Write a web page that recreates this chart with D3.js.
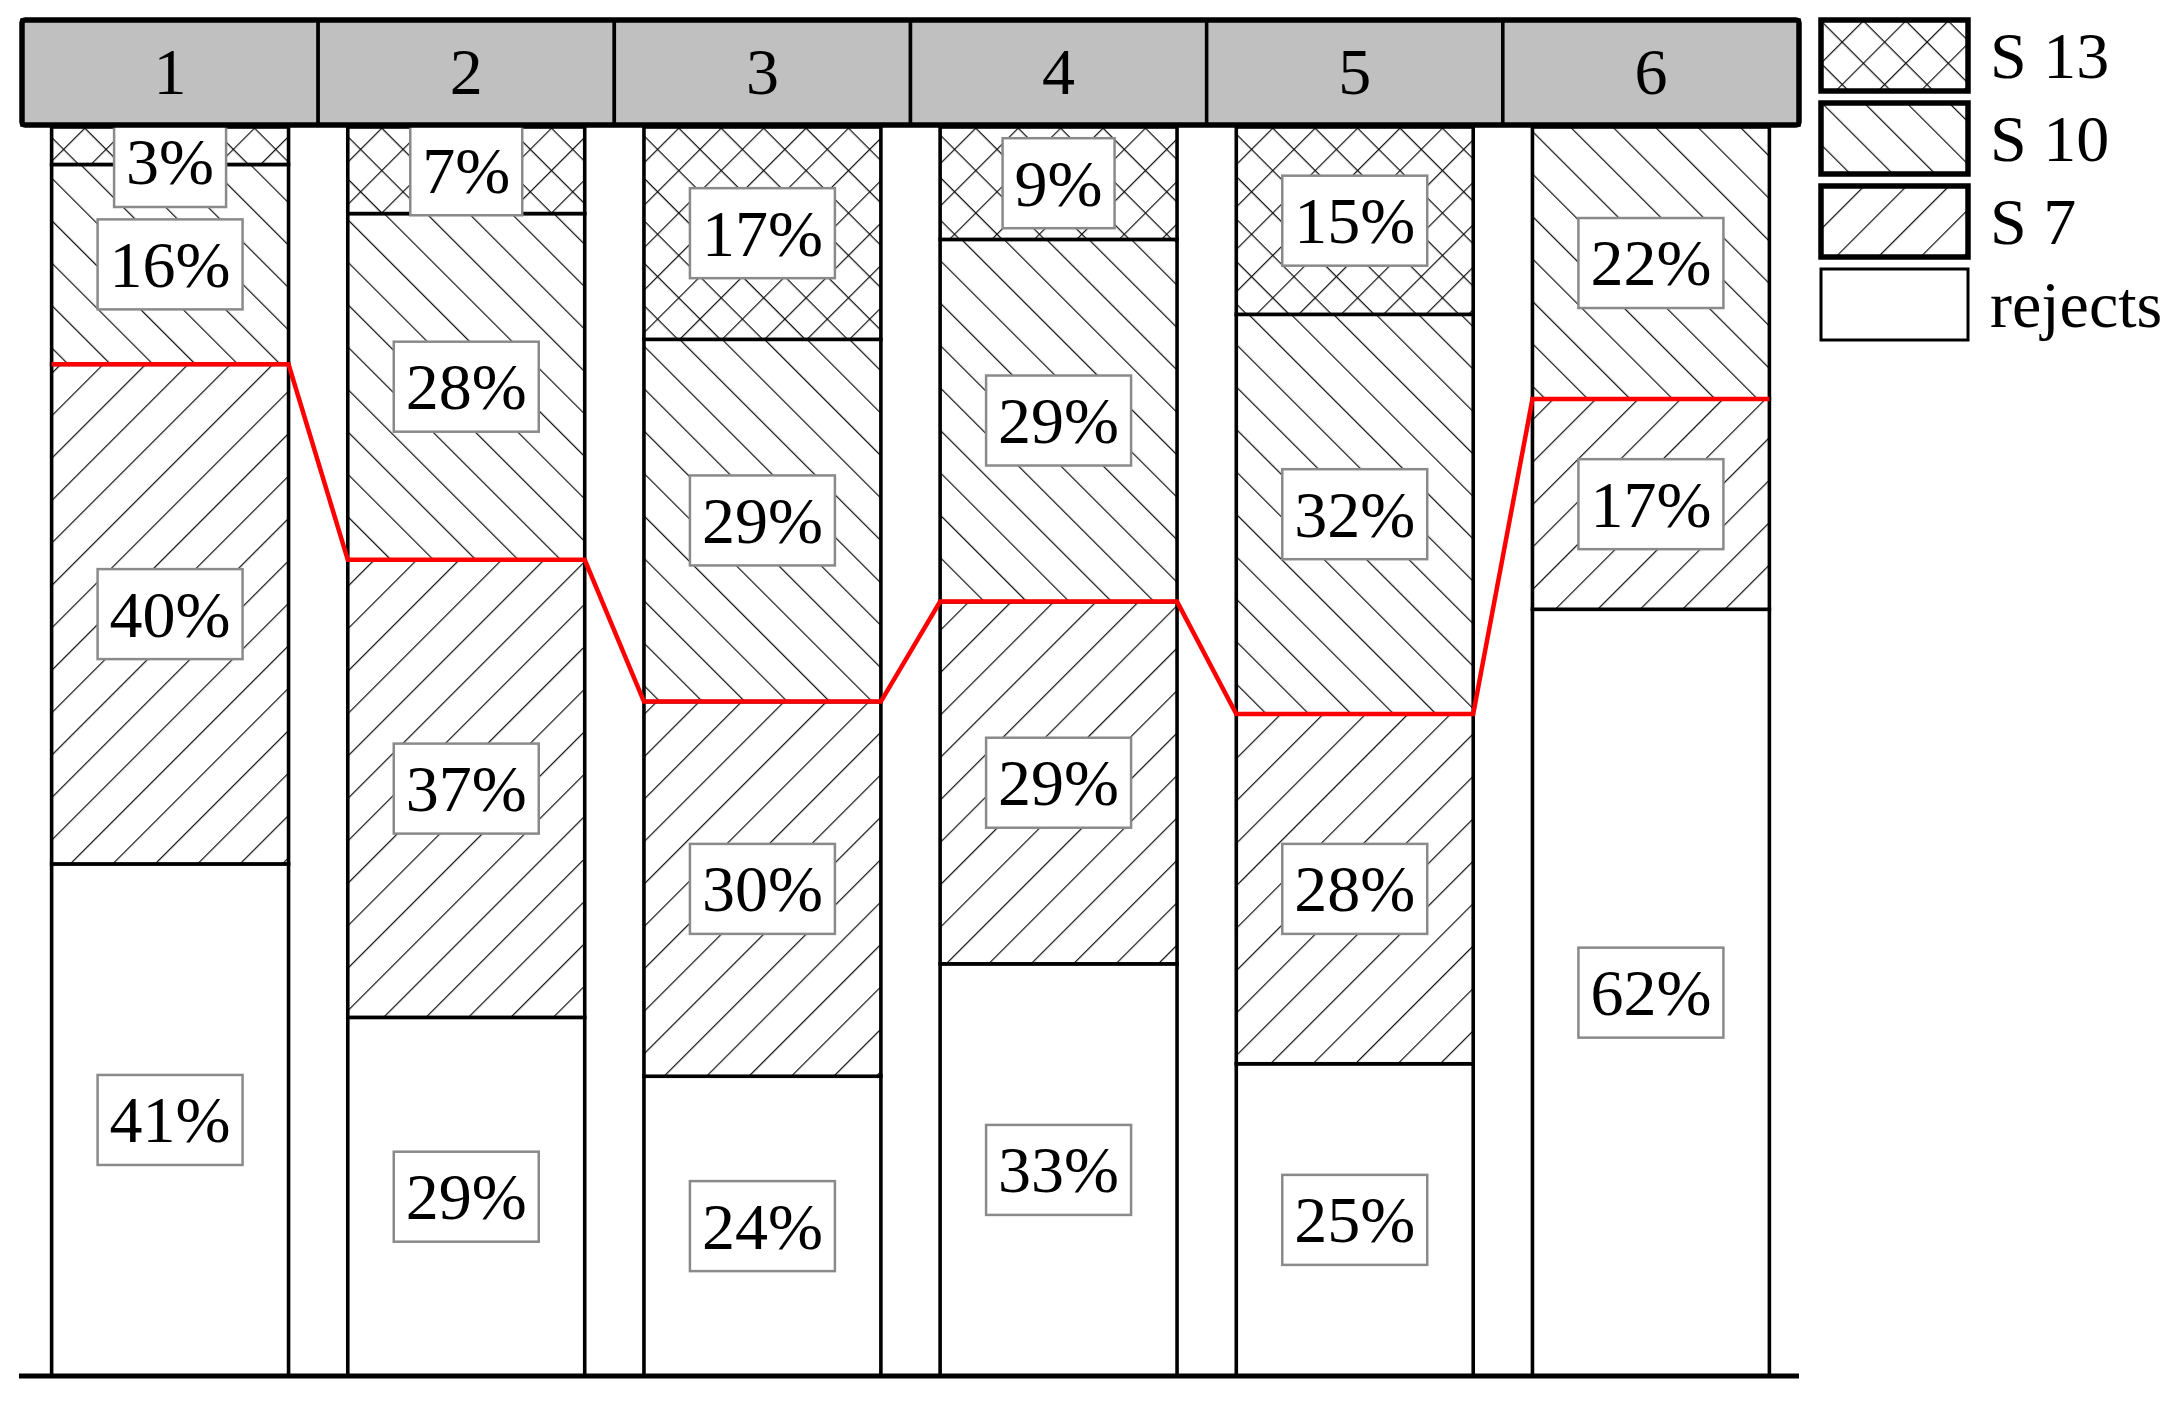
<!DOCTYPE html>
<html>
<head>
<meta charset="utf-8">
<script src="https://cdn.jsdelivr.net/npm/d3@7"></script>
<style>
  body { margin: 0; background: #fff; }
  svg text { font-family: "Liberation Serif", "DejaVu Serif", serif; }
</style>
</head>
<body>
<div id="chart"></div>
<script>
// data (percent of each column)
var groups  = ["1", "2", "3", "4", "5", "6"];
var rejects = [41, 29, 24, 33, 25, 62];
var s7      = [40, 37, 30, 29, 28, 17];
var s10     = [16, 28, 29, 29, 32, 22];
var s13     = [3, 7, 17, 9, 15, 0];
// stacking order, bottom to top
var keys = ["rejects", "S 7", "S 10", "S 13"];
var legendKeys = ["S 13", "S 10", "S 7", "rejects"];

var W = 2173, H = 1408;
var margin = {left: 22, right: 374, top: 127, bottom: 32};
var fontSize = 66;

var data = groups.map(function(g, i) {
  return {group: g, "rejects": rejects[i], "S 7": s7[i], "S 10": s10[i], "S 13": s13[i]};
});

var svg = d3.select("#chart")
  .append("svg")
    .attr("width", W)
    .attr("height", H);

svg.append("rect").attr("width", W).attr("height", H).attr("fill", "#fff");

// hatch patterns
var defs = svg.append("defs");
function hatch(id, angle, cross) {
  var p = defs.append("pattern")
    .attr("id", id)
    .attr("patternUnits", "userSpaceOnUse")
    .attr("width", 30).attr("height", 30)
    .attr("patternTransform", "rotate(" + angle + ")");
  p.append("rect").attr("width", 30).attr("height", 30).attr("fill", "#fff");
  p.append("line").attr("x1", 0).attr("y1", -2).attr("x2", 0).attr("y2", 32)
    .attr("stroke", "#111").attr("stroke-width", 2.4);
  if (cross) {
    p.append("line").attr("x1", -2).attr("y1", 0).attr("x2", 32).attr("y2", 0)
      .attr("stroke", "#111").attr("stroke-width", 2.4);
  }
}
hatch("h-s7", 45, false);
hatch("h-s10", -45, false);
hatch("h-s13", 45, true);

var fill = d3.scaleOrdinal()
  .domain(keys)
  .range(["#fff", "url(#h-s7)", "url(#h-s10)", "url(#h-s13)"]);

// scales
var x = d3.scaleBand()
  .domain(groups)
  .range([margin.left, W - margin.right])
  .paddingInner(0.2)
  .paddingOuter(0.1)
  .align(0.5);
var xHead = d3.scaleBand()
  .domain(groups)
  .range([margin.left, W - margin.right]);

var y = d3.scaleLinear()
  .domain([0, 1])
  .range([H - margin.bottom, margin.top]);

// normalize each column to 100%
var stacked = d3.stack()
  .keys(keys)
  .offset(d3.stackOffsetExpand)(data);

// bars
var layers = svg.append("g")
  .selectAll("g")
  .data(stacked)
  .enter().append("g")
    .attr("fill", function(d) { return fill(d.key); });

layers.selectAll("rect")
  .data(function(d) { return d.filter(function(v) { return v[1] - v[0] > 0; }); })
  .enter().append("rect")
    .attr("x", function(d) { return x(d.data.group); })
    .attr("y", function(d) { return y(d[1]); })
    .attr("width", x.bandwidth())
    .attr("height", function(d) { return y(d[0]) - y(d[1]); })
    .attr("stroke", "#000")
    .attr("stroke-width", 3.6);

// red line along the top of S 7
var s7Layer = stacked[1];
var redPts = [];
s7Layer.forEach(function(d) {
  redPts.push([x(d.data.group), y(d[1])]);
  redPts.push([x(d.data.group) + x.bandwidth(), y(d[1])]);
});
svg.append("path")
  .attr("d", d3.line()(redPts))
  .attr("fill", "none")
  .attr("stroke", "#ff0000")
  .attr("stroke-width", 4.5);

// value labels in boxes
var labels = [];
stacked.forEach(function(layer) {
  layer.forEach(function(d) {
    var v = d.data[layer.key];
    if (!v) return;
    var mid = (y(d[0]) + y(d[1])) / 2;
    labels.push({
      x: x(d.data.group) + x.bandwidth() / 2,
      y: Math.max(mid, y(1) + 35),
      text: v + "%"
    });
  });
});

var lab = svg.append("g")
  .selectAll("g")
  .data(labels)
  .enter().append("g")
    .attr("transform", function(d) { return "translate(" + d.x + "," + d.y + ")"; });
lab.append("rect")
  .attr("fill", "#fff")
  .attr("stroke", "#8a8a8a")
  .attr("stroke-width", 2.5);
lab.append("text")
  .attr("text-anchor", "middle")
  .attr("dy", "0.34em")
  .style("font-size", fontSize + "px")
  .text(function(d) { return d.text; });
lab.each(function() {
  var g = d3.select(this);
  var w = g.select("text").node().getComputedTextLength() + 24;
  g.select("rect")
    .attr("x", -w / 2).attr("y", -45)
    .attr("width", w).attr("height", 90);
});

// header row
var head = svg.append("g");
head.selectAll("rect")
  .data(groups)
  .enter().append("rect")
    .attr("x", function(d) { return xHead(d); })
    .attr("y", 20)
    .attr("width", xHead.bandwidth())
    .attr("height", 105)
    .attr("fill", "#c0c0c0")
    .attr("stroke", "#000")
    .attr("stroke-width", 3.5);
head.append("rect")
  .attr("x", margin.left).attr("y", 20)
  .attr("width", W - margin.right - margin.left)
  .attr("height", 105)
  .attr("rx", 3)
  .attr("fill", "none")
  .attr("stroke", "#000")
  .attr("stroke-width", 5.5);
head.selectAll("text")
  .data(groups)
  .enter().append("text")
    .attr("x", function(d) { return xHead(d) + xHead.bandwidth() / 2; })
    .attr("y", 72)
    .attr("dy", "0.34em")
    .attr("text-anchor", "middle")
    .style("font-size", fontSize + "px")
    .text(function(d) { return d; });

// baseline
svg.append("line")
  .attr("x1", 19).attr("x2", W - margin.right)
  .attr("y1", y(0)).attr("y2", y(0))
  .attr("stroke", "#000")
  .attr("stroke-width", 5);

// legend
var legend = svg.append("g")
  .selectAll("g")
  .data(legendKeys)
  .enter().append("g")
    .attr("transform", function(d, i) { return "translate(1821," + (20 + i * 83) + ")"; });
legend.append("rect")
  .attr("width", 147)
  .attr("height", 71)
  .attr("fill", function(d) { return fill(d); })
  .attr("stroke", "#000")
  .attr("stroke-width", function(d) { return d == "rejects" ? 3 : 5.5; });
legend.append("text")
  .attr("x", 169)
  .attr("y", 36)
  .attr("dy", "0.34em")
  .style("font-size", fontSize + "px")
  .text(function(d) { return d; });
</script>
</body>
</html>
